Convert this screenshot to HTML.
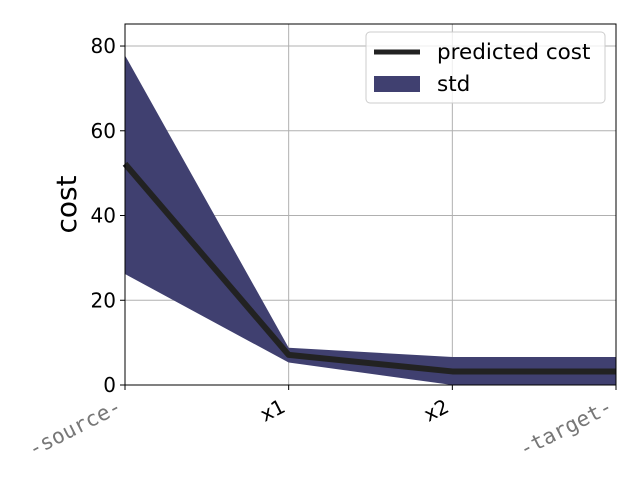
<!DOCTYPE html>
<html><head><meta charset="utf-8"><style>body{margin:0;background:#fff}svg{display:block}</style></head>
<body>
<svg id="chart" width="640" height="480" xmlns="http://www.w3.org/2000/svg" font-family="'DejaVu Sans','Liberation Sans',sans-serif"></svg>
<script>
const categories = ["-source-", "x1", "x2", "-target-"];
const meanCost = [52.2, 7.1, 3.2, 3.2];
const upperStd = [77.8, 8.8, 6.6, 6.6];
const lowerStd = [26.2, 5.3, 0, 0];
const yTicks = [0, 20, 40, 60, 80];

const L=125,R=616,T=24,B=385,yMax=85.2;
const sx=i=>L+i*(R-L)/(categories.length-1);
const sy=v=>B-v*(B-T)/yMax;
const svg=document.getElementById('chart');
const NS='http://www.w3.org/2000/svg';
function mk(tag,attrs,text){const e=document.createElementNS(NS,tag);for(const k in attrs)e.setAttribute(k,attrs[k]);if(text!=null)e.textContent=text;svg.appendChild(e);return e;}

categories.forEach((c,i)=>{const g=mk('line',{x1:sx(i),x2:sx(i),y1:T,y2:B,stroke:'#b0b0b0','stroke-width':1});

});
yTicks.forEach(v=>{const g=mk('line',{x1:L,x2:R,y1:sy(v),y2:sy(v),stroke:'#b0b0b0','stroke-width':1});

});

let pts=categories.map((c,i)=>sx(i)+','+sy(upperStd[i]));
for(let i=categories.length-1;i>=0;i--)pts.push(sx(i)+','+sy(lowerStd[i]));
const band=mk('polygon',{points:pts.join(' '),fill:'#404070'});



const line=mk('polyline',{points:categories.map((c,i)=>sx(i)+','+sy(meanCost[i])).join(' '),fill:'none',stroke:'#222','stroke-width':6,'stroke-linejoin':'round'});



const fr=mk('rect',{x:L,y:T,width:R-L,height:B-T,fill:'none',stroke:'#000','stroke-width':1});



yTicks.forEach(v=>{const t=mk('line',{x1:L-5,x2:L,y1:sy(v),y2:sy(v),stroke:'#000'});


const l=mk('text',{x:L-9,y:sy(v)+7,'text-anchor':'end','font-size':20},v);

});

categories.forEach((c,i)=>{const x=sx(i);
const t=mk('line',{x1:x,x2:x,y1:B,y2:B+5,stroke:'#000'});


const mono=c.startsWith('-');
const ax=x-2, ay=B+26;
const l=mk('text',{x:ax,y:ay,'text-anchor':'end','font-size':mono?21:20,fill:mono?'#777':'#000','font-family':mono?"'DejaVu Sans Mono','Liberation Mono',monospace":"'DejaVu Sans','Liberation Sans',sans-serif",transform:`rotate(-27 ${ax} ${ay})`},c);

});

const yt=mk('text',{x:76,y:(T+B)/2,'text-anchor':'middle','font-size':28,transform:`rotate(-90 76 ${(T+B)/2})`},'cost');



const lg=mk('rect',{x:366,y:32,width:239,height:71,rx:4,fill:'#fff','fill-opacity':0.8,stroke:'#ccc'});


const l1=mk('line',{x1:374,x2:420,y1:52,y2:52,stroke:'#222','stroke-width':5});


const t1=mk('text',{x:437,y:59,'font-size':21.5},'predicted cost');


const l2=mk('rect',{x:374,y:76,width:46,height:16,fill:'#404070'});


const t2=mk('text',{x:437,y:91,'font-size':21.5},'std');


</script>
</body></html>
